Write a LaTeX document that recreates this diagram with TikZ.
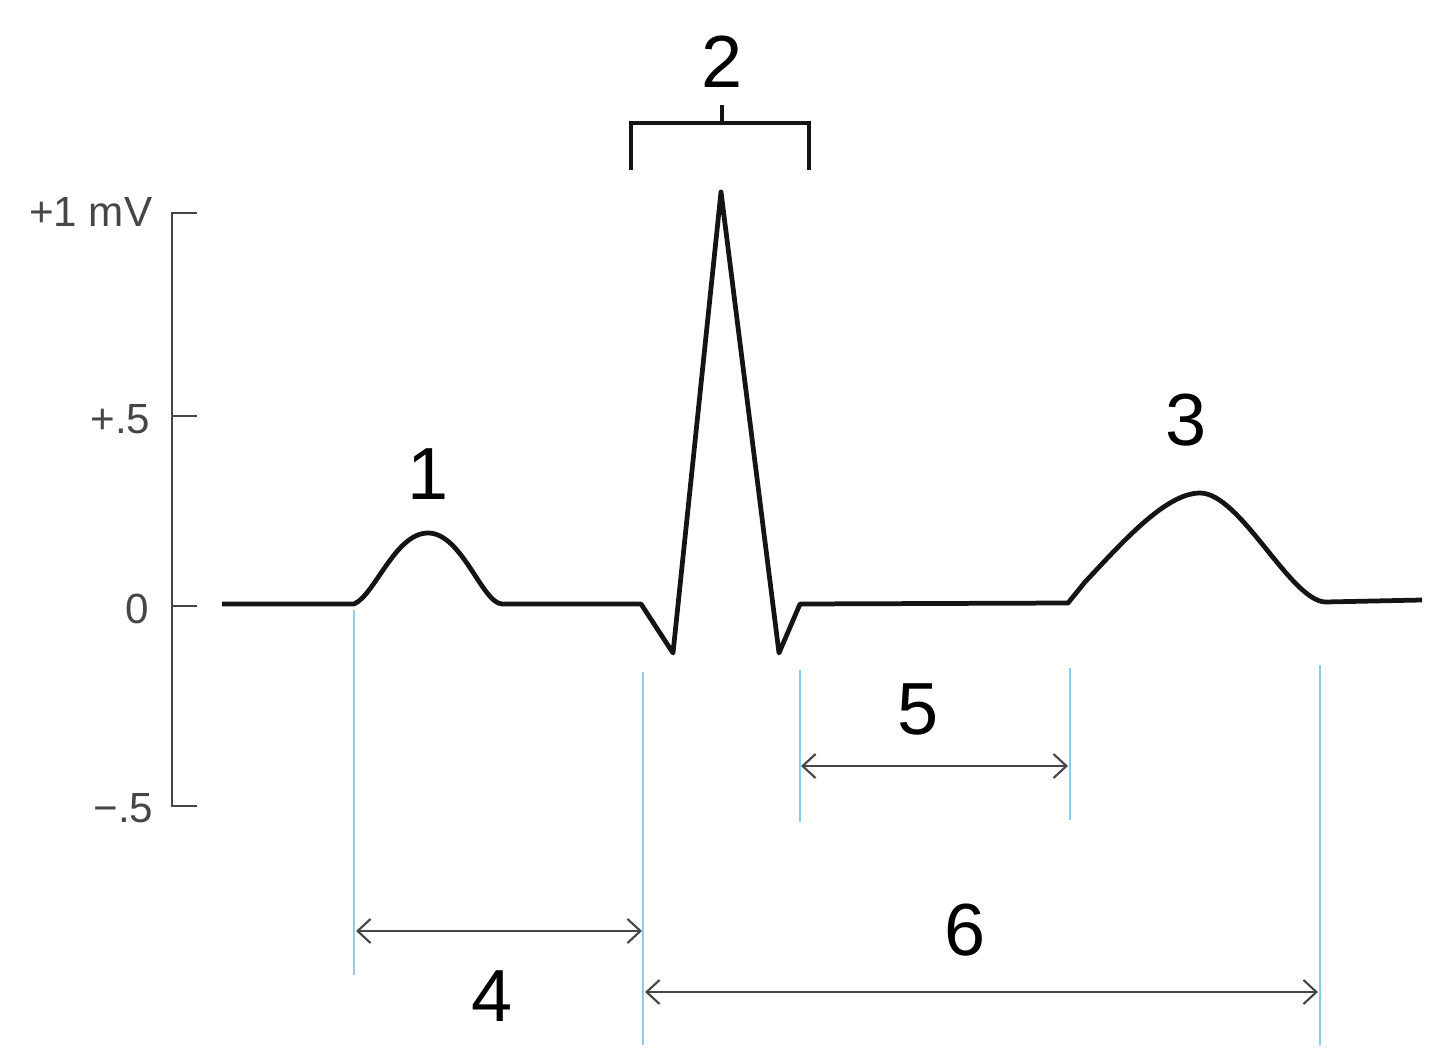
\documentclass[tikz,border=0pt]{standalone}
\usepackage{fontspec}
\setmainfont{Liberation Sans}
\usetikzlibrary{arrows.meta}
\definecolor{trace}{RGB}{20,20,20}
\definecolor{axisgray}{RGB}{70,70,70}
\definecolor{guide}{RGB}{140,205,232}
\tikzset{
  trace/.style={draw=trace,line width=1.35pt,line join=round},
  axisline/.style={draw=axisgray,line width=0.7pt},
  guideline/.style={draw=guide,line width=0.8pt},
  span/.style={draw=axisgray,line width=0.6pt,{Straight Barb[length=1.3mm,width=2.4mm]}-{Straight Barb[length=1.3mm,width=2.4mm]}},
  bigtxt/.style={font=\fontsize{21}{25}\selectfont,inner sep=0pt},
  axtxt/.style={font=\fontsize{12}{14}\selectfont,text=axisgray,inner sep=0pt,anchor=east},
}
\begin{document}
\begin{tikzpicture}[x=0.01cm,y=-0.01cm]
\useasboundingbox (0,0) rectangle (1440,1061);
% axis
\draw[axisline] (197,213) -- (172,213) -- (172,806) -- (197,806);
\draw[axisline] (172,416) -- (197,416);
\draw[axisline] (172,606) -- (197,606);
\node[axtxt] (l1) at (153,212) {+1 mV};
\node[axtxt] (l5) at (151,419) {+.5};
\node[axtxt] (l0) at (150,609) {0};
\node[axtxt] (lm) at (154,808) {−.5};
% trace
\draw[trace] (222,604) -- (354,604)
  .. controls (375,595) and (395,533) .. (428,533)
  .. controls (462,533) and (482,603) .. (502,604)
  -- (641,604) -- (673,653) -- (721,192) -- (779,653) -- (800,604)
  -- (1068,603) -- (1085,582)
  .. controls (1120,545) and (1165,493) .. (1200,493)
  .. controls (1240,493) and (1290,600) .. (1325,602)
  -- (1422,600);
% bracket
\draw[draw=trace,line width=1pt] (631,170) -- (631,123) -- (809,123) -- (809,170);
\draw[draw=trace,line width=1pt] (722,123) -- (722,105);
\node[bigtxt] (n2) at (722,62) {2};
% labels
\node[bigtxt] (n1) at (428,474) {1};
\node[bigtxt] (n3) at (1186,420) {3};
% guide lines
\coordinate (g1a) at (354,610); \coordinate (g1b) at (354,975);
\coordinate (g2a) at (643,672); \coordinate (g2b) at (643,1045);
\coordinate (g3a) at (800,670); \coordinate (g3b) at (800,822);
\coordinate (g4a) at (1070,668); \coordinate (g4b) at (1070,820);
\coordinate (g5a) at (1320,665); \coordinate (g5b) at (1320,1045);
\draw[guideline] (g1a) -- (g1b);
\draw[guideline] (g2a) -- (g2b);
\draw[guideline] (g3a) -- (g3b);
\draw[guideline] (g4a) -- (g4b);
\draw[guideline] (g5a) -- (g5b);
% spans
\coordinate (a4l) at (356,931); \coordinate (a4r) at (642,931);
\coordinate (a5l) at (801,766); \coordinate (a5r) at (1068,766);
\coordinate (a6l) at (645,992); \coordinate (a6r) at (1318,992);
\draw[span] (a4l) -- (a4r);
\draw[span] (a5l) -- (a5r);
\draw[span] (a6l) -- (a6r);
\node[bigtxt] (n4) at (492,996) {4};
\node[bigtxt] (n5) at (918,709) {5};
\node[bigtxt] (n6) at (965,930) {6};
\end{tikzpicture}
\end{document}
